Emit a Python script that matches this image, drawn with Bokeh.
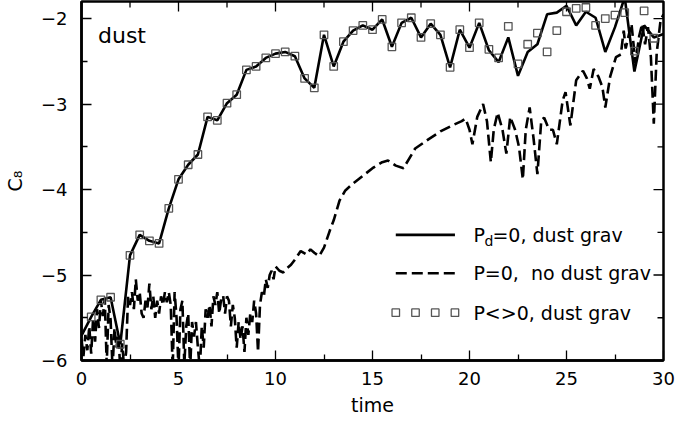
import math
from bokeh.plotting import figure
from bokeh.models import Range1d, LinearAxis, FixedTicker, Label
from bokeh.embed import file_html
from bokeh.resources import INLINE

# ---------------- data ----------------
t_half = [0.0, 0.5, 1.0, 1.5, 2.0, 2.5, 3.0, 3.5, 4.0, 4.5, 5.0, 5.5, 6.0, 6.5, 7.0, 7.5,
          8.0, 8.5, 9.0, 9.5, 10.0, 10.5, 11.0, 11.5, 12.0, 12.5, 13.0, 13.5, 14.0, 14.5,
          15.0, 15.5, 16.0, 16.5, 17.0, 17.5, 18.0, 18.5, 19.0, 19.5, 20.0, 20.5, 21.0,
          21.5, 22.0, 22.5, 23.0, 23.5, 24.0, 24.5, 25.0, 25.5, 26.0, 26.5, 27.0, 27.5,
          28.0, 28.5, 29.0, 29.5, 30.0]

# P_d=0, dust grav (solid)
c8_pd0 = [-5.71, -5.49, -5.29, -5.26, -5.81, -4.77, -4.53, -4.60, -4.63, -4.22, -3.88,
          -3.71, -3.59, -3.15, -3.19, -2.99, -2.89, -2.60, -2.56, -2.46, -2.41, -2.39,
          -2.44, -2.70, -2.81, -2.19, -2.56, -2.27, -2.14, -2.08, -2.13, -2.01, -2.33,
          -2.05, -1.99, -2.22, -2.06, -2.19, -2.57, -2.13, -2.34, -2.05, -2.37, -2.51,
          -2.22, -2.67, -2.39, -2.30, -1.95, -1.93, -1.85, -2.08, -1.92, -1.99, -2.39,
          -2.10, -1.75, -2.62, -2.08, -2.22, -2.18]

# P<>0, dust grav (squares)
t_sq = t_half[1:60]
c8_pnz = [-5.49, -5.29, -5.26, -5.81, -4.77, -4.53, -4.60, -4.63, -4.22, -3.88,
          -3.71, -3.59, -3.15, -3.19, -2.99, -2.89, -2.60, -2.56, -2.46, -2.41, -2.39,
          -2.44, -2.70, -2.81, -2.19, -2.56, -2.27, -2.14, -2.08, -2.13, -2.01, -2.33,
          -2.05, -1.99, -2.22, -2.06, -2.19, -2.57, -2.13, -2.34, -2.05, -2.36, -2.46,
          -2.09, -2.53, -2.30, -2.17, -2.39, -2.14, -1.92, -1.88, -1.87, -2.08, -2.00,
          -1.96, -1.93, -2.38, -1.91, -2.23]

# P=0, no dust grav (dashed)
t_nograv = [0.0, 0.1, 0.2, 0.3, 0.4, 0.5, 0.6, 0.7, 0.8, 0.9,
            1.0, 1.1, 1.2, 1.3, 1.4, 1.5, 1.6, 1.7, 1.8, 1.9,
            2.0, 2.1, 2.2, 2.3, 2.4, 2.5, 2.6, 2.7, 2.8, 2.9,
            3.0, 3.1, 3.2, 3.3, 3.4, 3.5, 3.6, 3.7, 3.8, 3.9,
            4.0, 4.1, 4.2, 4.3, 4.4, 4.5, 4.6, 4.7, 4.8, 4.9,
            5.0, 5.1, 5.2, 5.3, 5.4, 5.5, 5.6, 5.7, 5.8, 5.9,
            6.0, 6.1, 6.2, 6.3, 6.4, 6.5, 6.6, 6.7, 6.8, 6.9,
            7.0, 7.1, 7.2, 7.3, 7.4, 7.5, 7.6, 7.7, 7.8, 7.9,
            8.0, 8.1, 8.2, 8.3, 8.4, 8.5, 8.6, 8.7, 8.8, 8.9,
            9.0, 9.1, 9.2, 9.3, 9.4, 9.5, 9.6, 9.7, 9.8, 9.9,
            10.0, 10.2, 10.4, 10.6, 10.8, 11.0, 11.3, 11.6, 11.8, 12.0,
            12.25, 12.5, 12.8, 13.0, 13.3, 13.6, 14.0, 14.5, 15.0, 15.5,
            15.8, 16.2, 16.6, 17.2, 17.9, 18.5, 19.2, 19.6, 19.8, 20.0,
            20.15, 20.4, 20.7, 20.9, 21.1, 21.25, 21.45, 21.7, 21.9, 22.1,
            22.35, 22.55, 22.75, 22.9, 23.1, 23.3, 23.5, 23.7, 23.85, 24.1,
            24.3, 24.5, 24.8, 24.95, 25.2, 25.5, 25.85, 26.05, 26.2, 26.4,
            26.65, 26.85, 27.0, 27.25, 27.55, 27.8, 27.95, 28.05, 28.2, 28.35,
            28.55, 28.75, 28.9, 29.05, 29.2, 29.35, 29.5, 29.65, 29.85, 30.0]
c8_nograv = [-5.75, -5.95, -5.70, -5.88, -5.60, -5.92, -5.50, -5.78, -5.40, -5.62,
             -5.30, -5.48, -5.28, -6.05, -5.35, -5.52, -6.10, -5.62, -5.85, -5.70,
             -6.10, -5.80, -6.10, -5.90, -5.25, -5.35, -5.20, -5.40, -5.05, -5.30,
             -5.20, -5.45, -5.50, -5.30, -5.38, -5.10, -5.40, -5.25, -5.50, -5.30,
             -5.45, -5.25, -5.35, -5.20, -5.32, -5.20, -5.35, -6.10, -5.20, -5.50,
             -6.10, -5.40, -5.30, -6.05, -5.60, -5.45, -6.10, -5.55, -5.72, -5.55,
             -5.85, -6.10, -5.60, -5.85, -5.40, -5.50, -5.35, -5.60, -5.25, -5.35,
             -5.20, -5.45, -5.28, -5.24, -5.45, -5.25, -5.30, -5.60, -5.35, -5.50,
             -5.85, -5.55, -5.75, -5.60, -5.90, -5.50, -5.70, -5.45, -5.55, -5.30,
             -5.45, -5.90, -5.35, -5.20, -5.25, -5.05, -5.15, -5.00, -4.95, -5.05,
             -4.90, -4.95, -4.97, -4.92, -4.88, -4.82, -4.72, -4.76, -4.70, -4.74,
             -4.78, -4.68, -4.48, -4.36, -4.13, -4.01, -3.93, -3.84, -3.75, -3.68,
             -3.66, -3.72, -3.75, -3.52, -3.41, -3.32, -3.24, -3.20, -3.17, -3.30,
             -3.47, -3.15, -3.00, -3.20, -3.68, -3.30, -3.10, -3.30, -3.58, -3.15,
             -3.30, -3.50, -3.88, -3.30, -3.04, -3.40, -3.82, -3.19, -3.16, -3.30,
             -3.30, -3.47, -2.96, -2.86, -3.25, -2.72, -2.61, -2.70, -2.82, -2.59,
             -2.68, -2.80, -3.04, -2.68, -2.45, -2.42, -2.14, -2.35, -2.20, -2.06,
             -2.52, -2.20, -2.06, -2.30, -2.10, -2.45, -3.23, -2.40, -2.02, -1.95]
assert len(t_nograv) == len(c8_nograv)

x_ticks = [0, 5, 10, 15, 20, 25, 30]
x_minor = [2.5, 7.5, 12.5, 17.5, 22.5, 27.5]
y_ticks = [-6, -5, -4, -3, -2]
y_minor = [-5.5, -4.5, -3.5, -2.5]
y_tick_labels = ["\u22126", "\u22125", "\u22124", "\u22123", "\u22122"]

legend_labels = ["=0, dust grav", "P=0,\u00a0 no dust grav", "P<>0, dust grav"]

# ---------------- figure ----------------
FONT = "DejaVu Sans"
X0, X1, Y0, Y1 = 0, 30, -6, -1.8
p = figure(width=691, height=424, output_backend="svg", toolbar_location=None,
           x_range=Range1d(X0, X1), y_range=Range1d(Y0, Y1),
           min_border_left=80, min_border_right=28, min_border_top=1,
           min_border_bottom=64, x_axis_location=None, y_axis_location=None)
p.grid.visible = False
p.outline_line_color = "black"
p.outline_line_width = 2.5
p.background_fill_color = "white"
p.border_fill_color = "white"


def style_axis(ax, ticks, minor):
    ax.ticker = FixedTicker(ticks=ticks, minor_ticks=minor)
    ax.axis_line_color = "black"
    ax.axis_line_width = 2.5
    ax.major_tick_in = 10
    ax.major_tick_out = 0
    ax.minor_tick_in = 6
    ax.minor_tick_out = 0
    ax.major_tick_line_width = 1.3
    ax.minor_tick_line_width = 1.3
    ax.major_tick_line_color = "black"
    ax.minor_tick_line_color = "black"
    ax.major_label_text_font = FONT
    ax.major_label_text_font_size = "18px"
    ax.major_label_text_color = "black"
    ax.axis_label_text_font = FONT
    ax.axis_label_text_font_size = "19px"
    ax.axis_label_text_font_style = "normal"
    ax.axis_label_text_color = "black"


xb = LinearAxis(axis_label="time")
style_axis(xb, x_ticks, x_minor)
xb.major_label_standoff = 11
xb.axis_label_standoff = 6
p.add_layout(xb, "below")

yl = LinearAxis(axis_label="C\u2088")
style_axis(yl, y_ticks, y_minor)
yl.major_label_overrides = {k: v for k, v in zip(y_ticks, y_tick_labels)}
yl.major_label_standoff = 14
yl.axis_label_standoff = 12
p.add_layout(yl, "left")

# inward ticks on the top and right edges of the frame
tk = dict(line_color="black", line_width=1.3, length_units="screen")
p.ray(x=x_ticks, y=[Y1] * len(x_ticks), length=10, angle=-math.pi / 2, **tk)
p.ray(x=x_minor, y=[Y1] * len(x_minor), length=6, angle=-math.pi / 2, **tk)
p.ray(x=[X1] * len(y_ticks), y=y_ticks, length=10, angle=math.pi, **tk)
p.ray(x=[X1] * len(y_minor), y=y_minor, length=6, angle=math.pi, **tk)

# ---------------- data glyphs ----------------
p.line(t_half, c8_pd0, line_color="black", line_width=2.6)
p.line(t_nograv, c8_nograv, line_color="black", line_width=2.6, line_dash="11 5")
p.scatter(t_sq, c8_pnz, marker="square", size=7.5, fill_color=None,
          line_color="#555555", line_width=1.3)

# ---------------- annotations ----------------
p.add_layout(Label(x=0.85, y=-2.2, text="dust", text_font=FONT, text_font_size="22px",
                   text_color="black", text_baseline="alphabetic"))

# manual legend (layout positions in data units)
leg_x0, leg_x1, leg_text_x = 16.2, 19.25, 20.2
leg_rows = [-4.53, -4.98, -5.44]
p.line([leg_x0, leg_x1], [leg_rows[0]] * 2, line_color="black", line_width=2.6)
p.line([leg_x0, leg_x1], [leg_rows[1]] * 2, line_color="black", line_width=2.6,
       line_dash="11 5")
sq_n = 4
p.scatter([leg_x0 + i * (leg_x1 - leg_x0) / (sq_n - 1) for i in range(sq_n)],
          [leg_rows[2]] * sq_n, marker="square", size=7.5, fill_color=None,
          line_color="#555555", line_width=1.3)

lf = dict(text_font=FONT, text_color="black", text_baseline="middle")
p.add_layout(Label(x=leg_text_x, y=leg_rows[0], text="P", text_font_size="19px", **lf))
p.add_layout(Label(x=leg_text_x, y=leg_rows[0], text="d", text_font_size="14px",
                   x_offset=11, y_offset=-6, **lf))
p.add_layout(Label(x=leg_text_x, y=leg_rows[0], text=legend_labels[0],
                   text_font_size="19px", x_offset=19, **lf))
p.add_layout(Label(x=leg_text_x, y=leg_rows[1], text=legend_labels[1],
                   text_font_size="19px", **lf))
p.add_layout(Label(x=leg_text_x, y=leg_rows[2], text=legend_labels[2],
                   text_font_size="19px", **lf))

open("out.html", "w").write(file_html(p, INLINE))
